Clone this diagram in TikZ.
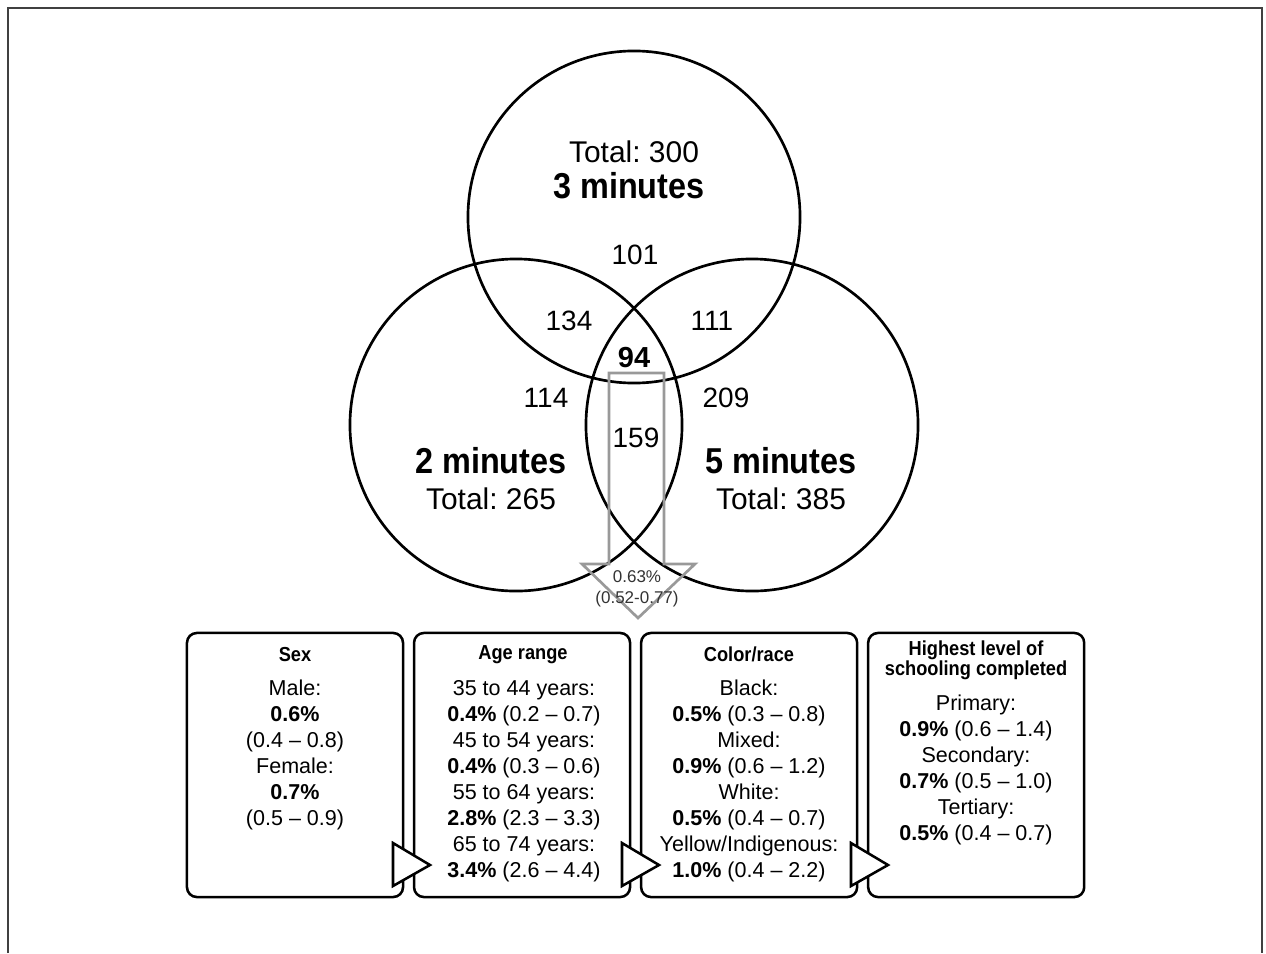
\documentclass[tikz,border=0pt]{standalone}
\usepackage{fontspec}
\setmainfont{Liberation Sans}
\newfontfamily\narrowfont[FakeStretch=0.9]{Liberation Sans}
\usetikzlibrary{positioning}
\frenchspacing

\tikzset{
  venn/.style={circle, draw, line width=1.9pt, minimum size=8.3cm, inner sep=0pt},
  panel/.style={draw, line width=1.8pt, rounded corners=7pt, minimum width=5.4cm, minimum height=6.6cm, inner sep=0pt},
  pointer/.style={draw, fill=white, line width=1.8pt, line join=miter},
  bigarrow/.style={draw=black!40, line width=1.9pt, line join=miter},
  total/.style={font=\fontsize{21.3}{25}\selectfont, inner sep=0pt},
  group/.style={font=\narrowfont\bfseries\fontsize{25.6}{28}\selectfont, inner sep=0pt},
  count/.style={font=\fontsize{19.9}{24}\selectfont, inner sep=0pt},
  head/.style={font=\narrowfont\bfseries\fontsize{14.4}{12.1}\selectfont, align=center, inner sep=0pt},
  body/.style={font=\fontsize{15.3}{18.5}\selectfont, align=center, inner sep=0pt},
}

\begin{document}
\begin{tikzpicture}[x=0.025cm, y=-0.025cm, node distance=5.675cm]
      \useasboundingbox (0,0) rectangle (1266,953);
      \draw[line width=1pt, black!75] (8,953) -- (8,8) -- (1262,8) -- (1262,953);

      % the three sets
      \node[venn] (three) at (634,217) {};
      \node[venn] (two) at (516,425) {};
      \node[venn] (five) at (752,425) {};

      \draw[bigarrow] (609,373) -- (609,564) -- (582,564) -- (638,618) -- (695,564) -- (664,564) -- (664,373) -- cycle;

      \node[total] (t300) at (634,152) {Total: 300};
      \node[group] (g3) at (629,186) {3 minutes};
      \node[count] (n101) at (635,255) {101};
      \node[count] (n134) at (569,321) {134};
      \node[count] (n111) at (712,321) {111};
      \node[count, font=\bfseries\fontsize{20.6}{24}\selectfont] (n94) at (634,358) {94};
      \node[count] (n114) at (546,398) {114};
      \node[count] (n209) at (726,398) {209};
      \node[count] (n159) at (636,438) {159};
      \node[group] (g2) at (491,461) {2 minutes};
      \node[total] (t265) at (491,499) {Total: 265};
      \node[group] (g5) at (781,461) {5 minutes};
      \node[total] (t385) at (781,499) {Total: 385};
      \node[font=\fontsize{12.1}{15}\selectfont, align=center, inner sep=0pt, text=black!80] (rate) at (637,589) {0.63\%\\(0.52-0.77)};

      % panels
      \node[panel] (sex) at (295,765) {};
      \node[panel, right of=sex] (age) {};
      \node[panel, right of=age] (race) {};
      \node[panel, right of=race] (school) {};

      \node[head, anchor=base] (sexhead) at (295,661) {Sex};
      \node[head, anchor=base] (agehead) at (523,659) {Age range};
      \node[head, anchor=base] (racehead) at (749,661) {Color/race};
      \node[head] (schoolhead) at (976,660) {Highest level of\\schooling completed};

      \node[body] (sexbody) at (295,755) {Male:\\\textbf{0.6\%}\\(0.4 -- 0.8)\\Female:\\\textbf{0.7\%}\\(0.5 -- 0.9)};
      \node[body] (agebody) at (524,781) {35 to 44 years:\\\textbf{0.4\%} (0.2 -- 0.7)\\45 to 54 years:\\\textbf{0.4\%} (0.3 -- 0.6)\\55 to 64 years:\\\textbf{2.8\%} (2.3 -- 3.3)\\65 to 74 years:\\\textbf{3.4\%} (2.6 -- 4.4)};
      \node[body] (racebody) at (749,781) {Black:\\\textbf{0.5\%} (0.3 -- 0.8)\\Mixed:\\\textbf{0.9\%} (0.6 -- 1.2)\\White:\\\textbf{0.5\%} (0.4 -- 0.7)\\Yellow/Indigenous:\\\textbf{1.0\%} (0.4 -- 2.2)};
      \node[body] (schoolbody) at (976,769.5) {Primary:\\\textbf{0.9\%} (0.6 -- 1.4)\\Secondary:\\\textbf{0.7\%} (0.5 -- 1.0)\\Tertiary:\\\textbf{0.5\%} (0.4 -- 0.7)};

      \foreach \x in {393,622,851}
        \draw[pointer] (\x,843) -- (\x+37,865) -- (\x,886) -- cycle;
\end{tikzpicture}
\end{document}
